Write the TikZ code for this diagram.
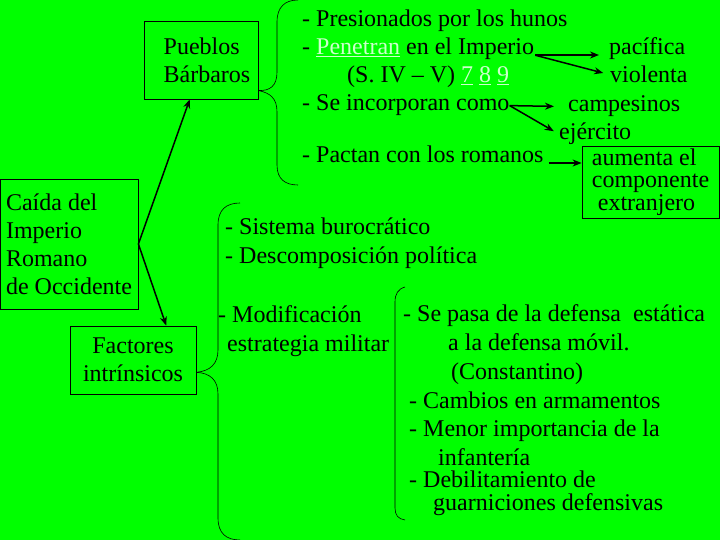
\documentclass[tikz,border=0pt]{standalone}
\usepackage{fontspec}
\setmainfont{Liberation Serif}
\usetikzlibrary{arrows.meta}
\definecolor{bggreen}{RGB}{0,255,0}
\definecolor{linkgreen}{RGB}{205,255,205}
\newcommand{\lnk}[1]{{\color{linkgreen}\underline{#1}}}

\begin{document}
\begin{tikzpicture}[
    x=1pt, y=-1pt,
    font=\fontsize{24}{28}\selectfont,
    line/.style={anchor=base west, inner sep=0pt},
    box/.style={draw, line width=0.8pt, inner sep=0pt, align=center},
    brace/.style={draw, line width=0.6pt},
    arrow/.style={-{Stealth[length=9pt, width=7pt]}, line width=1.5pt}
]
\fill[bggreen] (0,0) rectangle (720,540);
\useasboundingbox (0,0) rectangle (720,540);

% Main boxes
\node[box, minimum width=138pt, minimum height=130pt, align=left] (caida) at (69,244) {Caída del\\Imperio\\Romano\\de Occidente};
\node[box, minimum width=114pt, minimum height=78pt, align=left] (pueblos) at (201,60) {\hspace*{12pt}Pueblos\\\hspace*{12pt}Bárbaros};
\node[box, minimum width=126pt, minimum height=68pt] (factores) at (133,360) {Factores\\intrínsicos};

% Pueblos barbaros
\node[line] (presionados) at (302,27) {- Presionados por los hunos};
\node[line] (penetran) at (302,55) {- \lnk{Penetran} en el Imperio};
\node[line] (siglo) at (347,83) {(S. IV – V) \lnk{7} \lnk{8} \lnk{9}};
\node[line] (incorporan) at (302,111) {- Se incorporan como};
\node[line] (pactan) at (302,163) {- Pactan con los romanos};

\node[line] (pacifica) at (609,55) {pacífica};
\node[line] (violenta) at (610,83) {violenta};
\node[line] (campesinos) at (568,112) {campesinos};
\node[line] (ejercito) at (559,140) {ejército};
\node[box, minimum width=137pt, minimum height=72pt, align=left, font=\fontsize{24}{22.5}\selectfont] (aumenta) at (650.5,182) {aumenta el\\componente\\\hspace*{6pt}extranjero};

% Factores intrinsicos
\node[line] (sistema) at (225,235) {- Sistema burocrático};
\node[line] (descomposicion) at (225,263) {- Descomposición política};
\node[line] (modificacion) at (218,322) {- Modificación};
\node[line] (estrategia) at (227,351) {estrategia militar};

% Estrategia militar
\node[line] (pasa) at (403,321) {- Se pasa de la defensa\ \ estática};
\node[line] (movil) at (448,350) {a la defensa móvil.};
\node[line] (constantino) at (451,379) {(Constantino)};
\node[line] (cambios) at (409,408) {- Cambios en armamentos};
\node[line] (menor) at (409,436) {- Menor importancia de la};
\node[line] (infanteria) at (438,465) {infantería};
\node[line] (debilitamiento) at (409,487) {- Debilitamiento de};
\node[line] (guarniciones) at (433,510) {guarniciones defensivas};

% Arrows
\draw[arrow] (caida.east) -- (pueblos.254);
\draw[arrow] (caida.east) -- (factores.46);
\draw[arrow, shorten <=1pt, shorten >=10pt] (penetran.base east) -- (pacifica.base west);
\draw[arrow, shorten <=1pt, shorten >=7pt] (penetran.base east) -- (violenta.west);
\draw[arrow, shorten >=14pt] (incorporan.east) -- (campesinos.west);
\draw[arrow, shorten >=6pt] (incorporan.east) -- (ejercito.west);
\draw[arrow, shorten <=5pt] (pactan.base east) -- (pactan.base east -| aumenta.west);

% Braces
\draw[brace] (pueblos.-28) .. controls (270,91) and (277,86) .. (277,72) -- (277,22) .. controls (277,7) and (285,0) .. (298,0);
\draw[brace] (pueblos.-28) .. controls (270,93) and (277,98) .. (277,112) -- (277,165) .. controls (277,179) and (285,185) .. (298,185);
\draw[brace] (factores.-11) .. controls (210,371) and (218,364) .. (218,350) -- (218,225) .. controls (218,210) and (226,203) .. (240,203);
\draw[brace] (factores.-11) .. controls (210,373) and (218,380) .. (218,394) -- (218,518) .. controls (218,533) and (226,540) .. (240,540);
\draw[brace] (405,287) .. controls (398,289) and (395,294) .. (395,302) -- (395,508) .. controls (395,515) and (398,519) .. (405,520);
\end{tikzpicture}
\end{document}
